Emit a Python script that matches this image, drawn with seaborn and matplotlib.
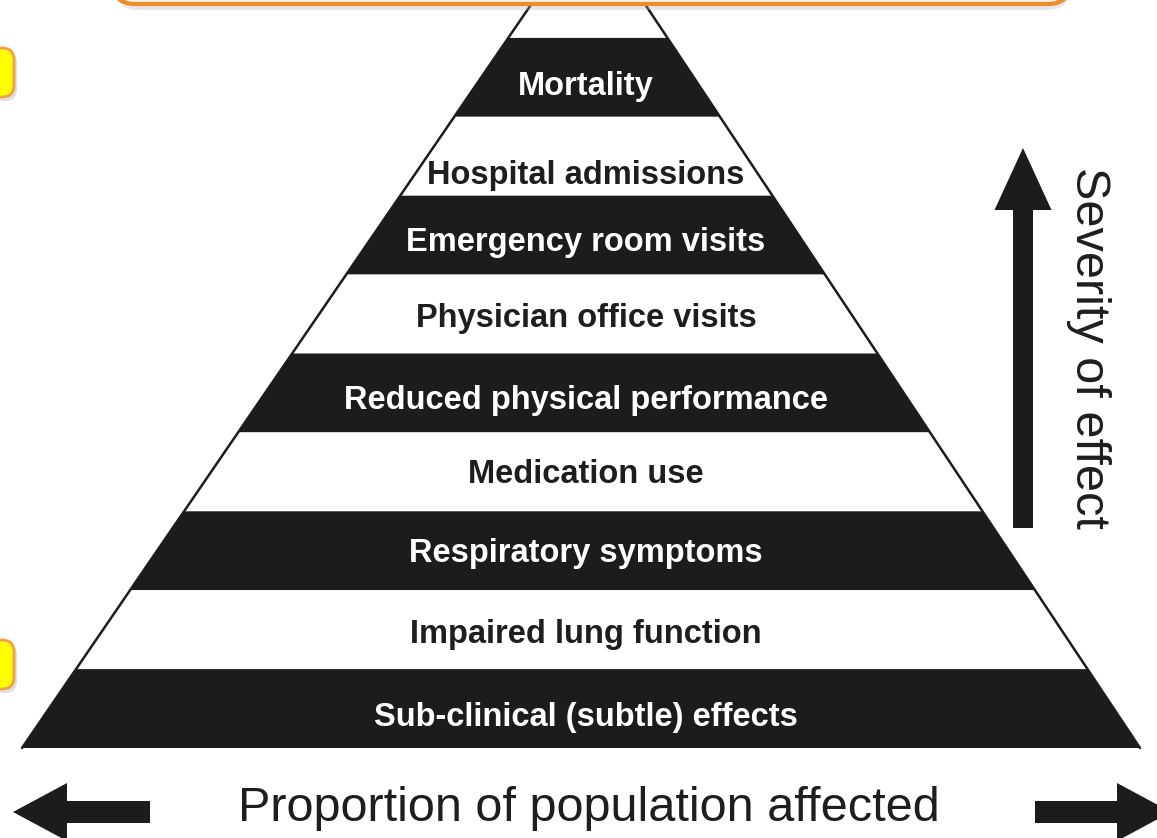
import seaborn as sns
import matplotlib.pyplot as plt
from matplotlib.patches import FancyBboxPatch, FancyArrow

# pyramid levels, top to bottom (the tip band has no label)
labels = ['', 'Mortality', 'Hospital admissions', 'Emergency room visits',
          'Physician office visits', 'Reduced physical performance',
          'Medication use', 'Respiratory symptoms', 'Impaired lung function',
          'Sub-clinical (subtle) effects']
band_fill = ['white', 'black', 'white', 'black', 'white', 'black',
             'white', 'black', 'white', 'black']
x_label = 'Proportion of population affected'
y_label = 'Severity of effect'

sns.set_theme(style='white')
plt.rcParams['font.family'] = ['Liberation Sans', 'DejaVu Sans']

DARK = '#1c1c1c'
colors = {'black': DARK, 'white': 'white'}

fig = plt.figure(figsize=(11.57, 8.38), dpi=100)
ax = fig.add_axes([0, 0, 1, 1])
ax.set_xlim(0, 1157)
ax.set_ylim(838, 0)
ax.axis('off')

# pyramid geometry (pixels, y down)
apex_x, apex_y = 589, -80
base_y, base_l, base_r = 748, 22, 1140
band_h = 78.9
label_dy = [0, 9, 19, 7, 4, 8, 3, 3, 5, 9]


def edge_x(y, base):
    return apex_x + (base - apex_x) * (y - apex_y) / (base_y - apex_y)


n = len(labels)
for i, (lab, fill) in enumerate(zip(labels, band_fill)):
    y_bot = base_y - band_h * (n - 1 - i)
    y_top = y_bot - band_h if i > 0 else apex_y
    xs = [edge_x(y_top, base_l), edge_x(y_top, base_r),
          edge_x(y_bot, base_r), edge_x(y_bot, base_l)]
    ax.fill(xs, [y_top, y_top, y_bot, y_bot], color=colors[fill], lw=0, zorder=2)
    if lab:
        tc = 'white' if fill == 'black' else '#1e1e1e'
        ax.text(586, (y_top + y_bot) / 2 + label_dy[i], lab, color=tc,
                ha='center', va='center', fontsize=23.5, fontweight='bold', zorder=4)

# pyramid side outlines
ax.plot([apex_x, base_l], [apex_y, base_y], color=DARK, lw=1.8, zorder=3)
ax.plot([apex_x, base_r], [apex_y, base_y], color=DARK, lw=1.8, zorder=3)

# orange title box at the top edge (mostly cut off)
ax.add_patch(FancyBboxPatch((116, -60), 954, 70, boxstyle='round,pad=0,rounding_size=22',
                            fc='#b0b0b0', ec='none', alpha=0.3, zorder=4))
ax.add_patch(FancyBboxPatch((113, -66), 957, 70, boxstyle='round,pad=0,rounding_size=22',
                            fc='#fdf1e4', ec='#ee8c2a', lw=3, zorder=5))

# yellow side tabs
for y0 in [48, 640]:
    ax.add_patch(FancyBboxPatch((-40, y0 + 3), 57, 50, boxstyle='round,pad=0,rounding_size=12',
                                fc='#9a9a9a', ec='none', alpha=0.3, zorder=4))
    ax.add_patch(FancyBboxPatch((-40, y0), 54, 49, boxstyle='round,pad=0,rounding_size=12',
                                fc='#ffff00', ec='#f4a04a', lw=2, zorder=5))

# bottom double arrow
ax.add_patch(FancyArrow(150, 812, -137, 0, width=22, head_width=58, head_length=54,
                        length_includes_head=True, color=DARK, lw=0, zorder=3))
ax.add_patch(FancyArrow(1035, 812, 136, 0, width=22, head_width=58, head_length=54,
                        length_includes_head=True, color=DARK, lw=0, zorder=3))
ax.text(589, 808, x_label, ha='center', va='center', fontsize=35, color='#1e1e1e')

# severity arrow
ax.add_patch(FancyArrow(1023, 528, 0, -380, width=20, head_width=57, head_length=62,
                        length_includes_head=True, color=DARK, lw=0, zorder=3))
ax.text(1088, 348, y_label, ha='center', va='center', rotation=270,
        fontsize=35, color='#1e1e1e')

fig.savefig('out.png', dpi=100)
